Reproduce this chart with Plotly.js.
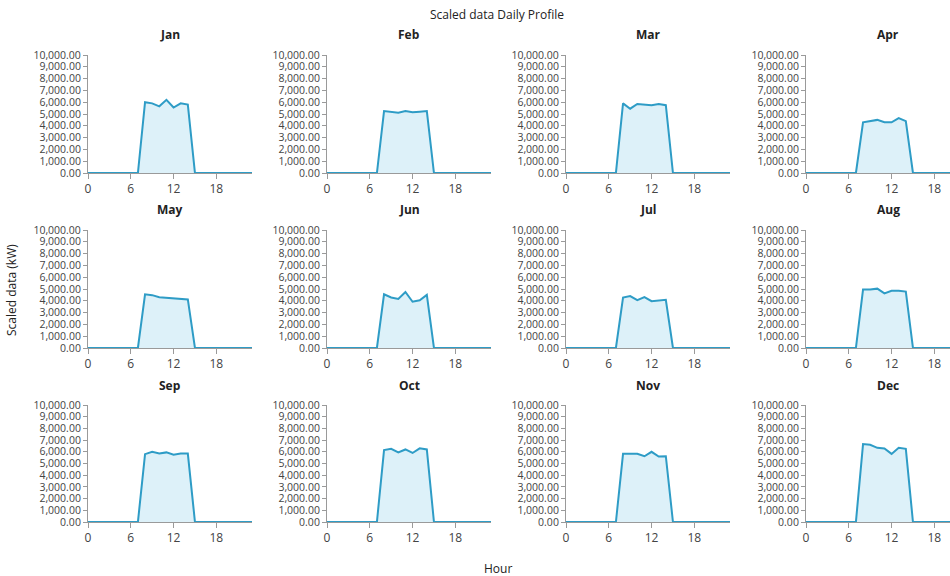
<!DOCTYPE html>
<html>
<head>
<meta charset="utf-8">
<script src="https://cdn.plot.ly/plotly-3.0.1.min.js"></script>
<style>html,body{margin:0;padding:0;background:#fff;}#chart{width:950px;height:576px;}</style>
</head>
<body>
<div id="chart"></div>
<script>
const hours = [0,1,2,3,4,5,6,7,8,9,10,11,12,13,14,15,16,17,18,19,20,21,22,23];
const months = ["Jan","Feb","Mar","Apr","May","Jun","Jul","Aug","Sep","Oct","Nov","Dec"];
const jan = [0,0,0,0,0,0,0,0,6000,5900,5650,6200,5550,5900,5800,0,0,0,0,0,0,0,0,0];
const feb = [0,0,0,0,0,0,0,0,5250,5200,5100,5250,5150,5200,5250,0,0,0,0,0,0,0,0,0];
const mar = [0,0,0,0,0,0,0,0,5900,5450,5850,5800,5750,5850,5750,0,0,0,0,0,0,0,0,0];
const apr = [0,0,0,0,0,0,0,0,4300,4400,4500,4300,4300,4650,4400,0,0,0,0,0,0,0,0,0];
const may = [0,0,0,0,0,0,0,0,4550,4480,4300,4250,4180,4150,4120,0,0,0,0,0,0,0,0,0];
const jun = [0,0,0,0,0,0,0,0,4550,4280,4150,4750,3920,4050,4500,0,0,0,0,0,0,0,0,0];
const jul = [0,0,0,0,0,0,0,0,4280,4400,4050,4320,3970,4050,4080,0,0,0,0,0,0,0,0,0];
const aug = [0,0,0,0,0,0,0,0,4950,4950,5030,4630,4850,4850,4780,0,0,0,0,0,0,0,0,0];
const sep = [0,0,0,0,0,0,0,0,5800,6000,5850,5950,5750,5850,5850,0,0,0,0,0,0,0,0,0];
const oct = [0,0,0,0,0,0,0,0,6150,6250,5950,6200,5900,6300,6200,0,0,0,0,0,0,0,0,0];
const nov = [0,0,0,0,0,0,0,0,5830,5830,5830,5620,6000,5600,5620,0,0,0,0,0,0,0,0,0];
const dec = [0,0,0,0,0,0,0,0,6660,6600,6340,6280,5820,6340,6250,0,0,0,0,0,0,0,0,0];
const series = [jan,feb,mar,apr,may,jun,jul,aug,sep,oct,nov,dec];
const yTicks = [0,1000,2000,3000,4000,5000,6000,7000,8000,9000,10000];
const xTicks = [0,6,12,18];

const W = 950, H = 576;
const colPx = [[88,252],[327,491],[566,730],[806,950]];
const rowPx = [[55,173],[230,348],[405,522]];
const FONT = "Open Sans, DejaVu Sans, sans-serif";

const data = [];
const layout = {
  width: W, height: H,
  margin: {l:0, r:0, t:0, b:0},
  paper_bgcolor: "#fff", plot_bgcolor: "#fff",
  showlegend: false,
  font: {family: FONT, size: 11, color: "#333"},
  annotations: [
    {text: "Scaled data Daily Profile", xref: "paper", yref: "paper", x: 497/W, y: 1 - 15/H, xanchor: "center", yanchor: "middle", showarrow: false, font: {size: 12, color: "#222"}},
    {text: "Hour", xref: "paper", yref: "paper", x: 498/W, y: 1 - 568/H, xanchor: "center", yanchor: "middle", showarrow: false, font: {size: 12, color: "#222"}},
    {text: "Scaled data (kW)", xref: "paper", yref: "paper", x: 11/W, y: 1 - 290/H, xanchor: "center", yanchor: "middle", textangle: -90, showarrow: false, font: {size: 12, color: "#222"}}
  ]
};

series.forEach((vals, i) => {
  const r = Math.floor(i / 4), c = i % 4;
  const n = i + 1;
  const xa = n === 1 ? "x" : "x" + n;
  const ya = n === 1 ? "y" : "y" + n;
  data.push({
    type: "scatter", mode: "lines",
    x: hours, y: vals,
    xaxis: xa, yaxis: ya,
    fill: "tozeroy",
    fillcolor: "rgba(180,224,242,0.45)",
    line: {color: "#2e9cc6", width: 2},
    cliponaxis: true,
    hoverinfo: "x+y"
  });
  const xd = [colPx[c][0] / W, colPx[c][1] / W];
  const yd = [1 - rowPx[r][1] / H, 1 - rowPx[r][0] / H];
  const xRangeMax = c === 3 ? (950 - 806) / ((252 - 88) / 23) : 23;
  layout["xaxis" + (n === 1 ? "" : n)] = {
    domain: xd, anchor: ya, range: [0, xRangeMax],
    tickvals: xTicks, ticktext: xTicks.map(String),
    showgrid: false, zeroline: false,
    showline: true, linecolor: "#9a9a9a", linewidth: 1,
    ticks: "outside", ticklen: 5, tickcolor: "#9a9a9a",
    tickfont: {size: 12, color: "#444"}, fixedrange: true
  };
  layout["yaxis" + (n === 1 ? "" : n)] = {
    domain: yd, anchor: xa, range: [0, 10000],
    tickvals: yTicks, tickformat: ",.2f",
    showgrid: false, zeroline: false,
    showline: true, linecolor: "#9a9a9a", linewidth: 1,
    ticks: "outside", ticklen: 4, tickcolor: "#9a9a9a",
    tickfont: {size: 10.5, color: "#444"}, fixedrange: true
  };
  layout.annotations.push({
    text: "<b>" + months[i] + "</b>", xref: "paper", yref: "paper",
    x: (colPx[c][0] + 82) / W, y: 1 - (rowPx[r][0] - 20) / H,
    xanchor: "center", yanchor: "middle",
    showarrow: false, font: {size: 12, color: "#222"}
  });
});

Plotly.newPlot("chart", data, layout, {displayModeBar: false, staticPlot: true});
</script>
</body>
</html>
